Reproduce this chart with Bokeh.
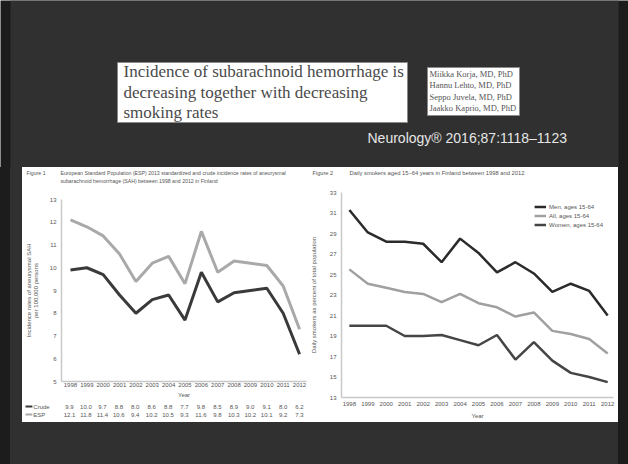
from bokeh.plotting import figure
from bokeh.models import Range1d, FixedTicker, Legend, LegendItem, Spacer
from bokeh.layouts import column, row
from bokeh.embed import file_html
from bokeh.resources import INLINE
from bokeh.core.properties import value

# ---- data ----
years = list(range(1998, 2013))
crude = [9.9, 10.0, 9.7, 8.8, 8.0, 8.6, 8.8, 7.7, 9.8, 8.5, 8.9, 9.0, 9.1, 8.0, 6.2]
esp = [12.1, 11.8, 11.4, 10.6, 9.4, 10.2, 10.5, 9.3, 11.6, 9.8, 10.3, 10.2, 10.1, 9.2, 7.3]
men = [31.3, 29.1, 28.2, 28.2, 28.0, 26.2, 28.5, 27.1, 25.2, 26.2, 25.1, 23.3, 24.1, 23.4, 21.0]
all_ages = [25.5, 24.1, 23.7, 23.3, 23.1, 22.3, 23.1, 22.2, 21.8, 20.9, 21.3, 19.5, 19.2, 18.7, 17.3]
women = [20.0, 20.0, 20.0, 19.0, 19.0, 19.1, 18.6, 18.1, 19.1, 16.7, 18.4, 16.6, 15.4, 15.0, 14.5]

sah_ticks = list(range(5, 14))
smoke_ticks = list(range(13, 34, 2))

title_lines = ["Incidence of subarachnoid hemorrhage is",
               "decreasing together with decreasing",
               "smoking rates"]
authors = ["Miikka Korja, MD, PhD", "Hannu Lehto, MD, PhD",
           "Seppo Juvela, MD, PhD", "Jaakko Kaprio, MD, PhD"]
citation = "Neurology\u00ae 2016;87:1118\u20131123"
fig1_caption = ["European Standard Population (ESP) 2013 standardized and crude incidence rates of aneurysmal",
                "subarachnoid hemorrhage (SAH) between 1998 and 2012 in Finland"]
fig2_caption = "Daily smokers aged 15\u201364 years in Finland between 1998 and 2012"

EDGE = "#1c1c1c"
SLIDE = "#303030"
INK = "#555555"
SANS = "Liberation Sans"
SERIF = "Liberation Serif"


def canvas(w, h, bg):
    """A bare figure in pixel coordinates (y downwards) for slide furniture."""
    c = figure(width=w, height=h, x_range=(0, w), y_range=(h, 0),
               toolbar_location=None, output_backend="svg", min_border=0)
    c.axis.visible = False
    c.grid.visible = False
    c.outline_line_color = None
    c.background_fill_color = bg
    c.border_fill_color = bg
    return c


# ---- slide header ----
top = canvas(628, 167, EDGE)
top.quad(left=[10], right=[618], top=[0], bottom=[167], fill_color=SLIDE, line_color=None)
top.quad(left=[117], right=[407], top=[62], bottom=[122], fill_color="white", line_color="#8a8a8a")
top.text(x=[123] * 3, y=[71, 92, 112], text=title_lines, text_font=value(SERIF),
         text_font_size="17px", text_baseline="middle", text_color="#4a4a4a")
top.quad(left=[427], right=[519], top=[67], bottom=[115], fill_color="white", line_color="#8a8a8a")
top.text(x=[429] * 4, y=[73, 84, 96, 107], text=authors, text_font=value(SERIF),
         text_font_size="8.5px", text_baseline="middle", text_color="#555555")
top.text(x=[367], y=[137], text=[citation], text_font=value(SANS),
         text_font_size="14px", text_baseline="middle", text_color="#e6e6e6")


def cap_kw(size):
    return dict(text_font=value(SANS), text_font_size=size, text_color=INK, text_baseline="middle")


def style_axes(p, label_standoff, title_standoff):
    p.grid.visible = False
    p.outline_line_color = None
    p.background_fill_color = "white"
    p.border_fill_color = "white"
    for ax in p.axis:
        ax.axis_line_color = "#c8c8c8"
        ax.axis_line_width = 1.5
        ax.major_tick_line_color = None
        ax.minor_tick_line_color = None
        ax.major_tick_out = 0
        ax.major_tick_in = 0
        ax.minor_tick_out = 0
        ax.minor_tick_in = 0
        ax.major_label_text_font = SANS
        ax.major_label_text_font_size = "6px"
        ax.major_label_text_color = INK
        ax.axis_label_text_font = SANS
        ax.axis_label_text_font_size = "6px"
        ax.axis_label_text_font_style = "normal"
        ax.axis_label_text_color = INK
    p.xaxis.major_label_standoff = label_standoff[0]
    p.xaxis.axis_label_standoff = title_standoff[0]
    p.yaxis.major_label_standoff = label_standoff[1]
    p.yaxis.axis_label_standoff = title_standoff[1]


# ---- Figure 1: SAH incidence ----
cap1 = canvas(285, 26, "white")
cap1.text(x=[4], y=[5], text=["Figure 1"], **cap_kw("5.2px"))
cap1.text(x=[38, 38], y=[5, 13], text=fig1_caption, **cap_kw("5.2px"))

p1 = figure(width=285, height=207, x_range=Range1d(1997.452, 2012.425), y_range=Range1d(5, 13),
            toolbar_location=None, output_backend="svg",
            min_border_left=38, min_border_right=1, min_border_top=6, min_border_bottom=18)
p1.line(years, esp, line_color="#a9a9a9", line_width=3)
p1.line(years, crude, line_color="#3a3a3a", line_width=3)
p1.xaxis.ticker = FixedTicker(ticks=years)
p1.yaxis.ticker = FixedTicker(ticks=sah_ticks)
p1.xaxis.axis_label = "Year"
p1.yaxis.axis_label = "Incidence rates of aneurysmal SAH\nper 100,000 persons"
style_axes(p1, (1, 5), (2, 8))

# value table under the chart, one row per series, aligned on the years
tbl = figure(width=285, height=22, x_range=Range1d(1995.139, 2012.485), y_range=Range1d(22, 0),
             toolbar_location=None, output_backend="svg", min_border=0)
tbl.axis.visible = False
tbl.grid.visible = False
tbl.outline_line_color = None
tbl.border_fill_color = "white"
for name, vals, color, yrow in [("Crude", crude, "#3a3a3a", 6), ("ESP", esp, "#a9a9a9", 14)]:
    tbl.text(x=years, y=[yrow] * len(years), text=[f"{v:.1f}" for v in vals],
             text_align="center", text_baseline="middle", text_font=value(SANS),
             text_font_size="6px", text_color=INK)
    tbl.segment(x0=[1995.32], x1=[1995.74], y0=[yrow], y1=[yrow], line_color=color, line_width=2)
    tbl.text(x=[1995.80], y=[yrow], text=[name], text_baseline="middle", text_font=value(SANS),
             text_font_size="6px", text_color=INK)

# each piece sits in its own row so the stacked figures keep their own frames
left_panel = column(row(cap1), row(p1), row(tbl), spacing=0)

# ---- Figure 2: daily smokers ----
cap2 = canvas(311, 20, "white")
cap2.text(x=[5], y=[5], text=["Figure 2"], **cap_kw("5.6px"))
cap2.text(x=[42], y=[5], text=[fig2_caption], **cap_kw("5.8px"))

p2 = figure(width=311, height=235, x_range=Range1d(1997.574, 2012.316), y_range=Range1d(13, 33),
            toolbar_location=None, output_backend="svg",
            min_border_left=29, min_border_right=5, min_border_top=5, min_border_bottom=25)
r_men = p2.line(years, men, line_color="#2b2b2b", line_width=2.5)
r_all = p2.line(years, all_ages, line_color="#a0a0a0", line_width=2.5)
r_women = p2.line(years, women, line_color="#454545", line_width=2.5)
p2.xaxis.ticker = FixedTicker(ticks=years)
p2.yaxis.ticker = FixedTicker(ticks=smoke_ticks)
p2.xaxis.axis_label = "Year"
p2.yaxis.axis_label = "Daily smokers as percent of total population"
style_axes(p2, (4, 5), (4, 10))

legend = Legend(items=[LegendItem(label="Men, ages 15-64", renderers=[r_men]),
                       LegendItem(label="All, ages 15-64", renderers=[r_all]),
                       LegendItem(label="Women, ages 15-64", renderers=[r_women])],
                location="top_right", glyph_width=12, glyph_height=9, label_height=9,
                spacing=0, padding=6, margin=10, label_standoff=3,
                label_text_font=SANS, label_text_font_size="6px", label_text_color=INK,
                border_line_color=None, background_fill_alpha=0)
p2.add_layout(legend)

right_panel = column(row(cap2), row(p2), spacing=0)


# ---- slide assembly ----
def block(w, h, color):
    return Spacer(width=w, height=h, styles={"background-color": color})


middle = row(block(10, 255, EDGE), block(12, 255, SLIDE), left_panel, right_panel,
             block(10, 255, EDGE), spacing=0)
bottom = row(block(10, 42, EDGE), block(608, 42, SLIDE), block(10, 42, EDGE), spacing=0)
root = column(top, middle, bottom, spacing=0)

open("out.html", "w").write(file_html(root, INLINE))
